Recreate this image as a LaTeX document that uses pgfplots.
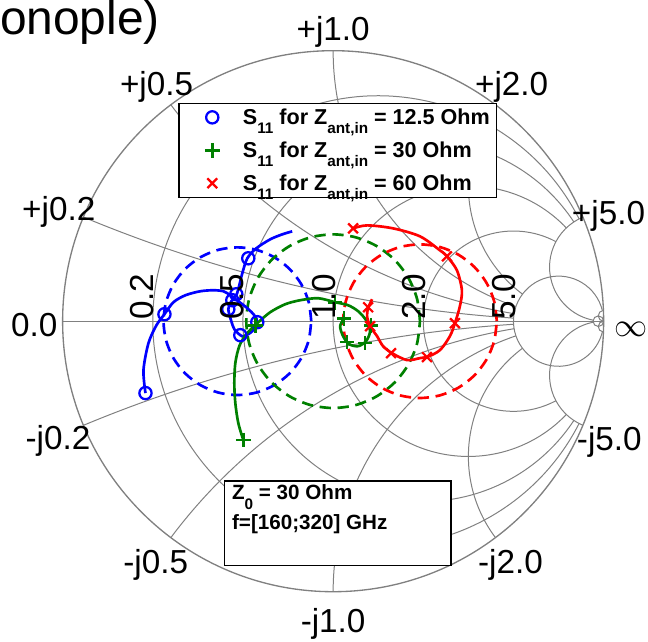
\documentclass[border=0pt]{standalone}
\usepackage{pgfplots}
\pgfplotsset{compat=1.18}
\usepackage{fontspec}
\setmainfont{Liberation Sans}
\definecolor{gridgray}{RGB}{128,128,128}
\definecolor{mblue}{RGB}{0,0,255}
\definecolor{mgreen}{RGB}{0,128,0}
\definecolor{mred}{RGB}{255,0,0}
\newcommand{\lsub}[1]{\raisebox{-7pt}{\fontsize{11.5}{11.5}\selectfont #1}}
\newcommand{\garc}[4]{\draw ([shift={(#3:#2)}]#1) arc[start angle=#3, end angle=#4, radius=#2];}
\begin{document}
\begin{tikzpicture}
\begin{scope}[x=0.75pt,y=-0.75pt]
\path[use as bounding box] (0,0) rectangle (648,639);
\path (333,318) coordinate (C);
\end{scope}
% Smith chart grid (reflection-coefficient plane, unit = chart radius)
\begin{scope}[shift={(C)}, x=203.25pt, y=203.25pt, gridgray, line width=0.75pt]
\draw (-1,0) -- (1,0);
\garc{0.1667,0}{0.8333}{27.0}{333.0}
\garc{0.3333,0}{0.6667}{33.4}{326.6}
\garc{0.5,0}{0.5}{43.6}{180}
\garc{0.5,0}{0.5}{180}{316.4}
\garc{0.6667,0}{0.3333}{61.9}{298.1}
\garc{0.8333,0}{0.16667}{13.7}{346.3}
\draw (0.98039,0) circle[radius=0.019608];
\garc{1,5}{5}{247.38}{266.18}
\garc{1,2}{2}{216.87}{260.47}
\garc{1,1}{1}{180}{251.08}
\garc{1,0.5}{0.5}{143.13}{233.13}
\garc{1,0.2}{0.2}{112.62}{258.80}
\garc{1,0.02}{0.02}{92.3}{270}
\garc{1,-5}{5}{-247.38}{-266.18}
\garc{1,-2}{2}{-216.87}{-260.47}
\garc{1,-1}{1}{-180}{-251.08}
\garc{1,-0.5}{0.5}{-143.13}{-233.13}
\garc{1,-0.2}{0.2}{-112.62}{-258.80}
\garc{1,-0.02}{0.02}{-92.3}{-270}
\draw[line width=1pt] (0,0) circle[radius=1];
\end{scope}
\begin{axis}[
  at={(C)}, anchor=center,
  scale only axis, width=406.5pt, height=406.5pt,
  xmin=-1, xmax=1, ymin=-1, ymax=1,
  hide axis,
  legend style={at={(0.214,0.904)}, anchor=north west, draw=black, line width=0.9pt, fill=white,
    font=\fontsize{16.2}{19}\selectfont\bfseries, row sep=7.5pt},
  legend cell align=left,
  lgmark/.style={legend image code/.code={\path (0pt,0pt) (41pt,0pt); \draw[##1] plot coordinates {(21pt,0pt)};}},
]
% dashed circles
\addplot[mblue, line width=2pt, dash pattern=on 8.5pt off 5pt, smooth, forget plot] coordinates {
(-0.081,0) (-0.0903,0.0707) (-0.1176,0.1365) (-0.161,0.193) (-0.2175,0.2364) (-0.2833,0.2637)
(-0.354,0.273) (-0.4247,0.2637) (-0.4905,0.2364) (-0.547,0.193) (-0.5904,0.1365) (-0.6177,0.0707)
(-0.627,0) (-0.6177,-0.0707) (-0.5904,-0.1365) (-0.547,-0.193) (-0.4905,-0.2364) (-0.4247,-0.2637)
(-0.354,-0.273) (-0.2833,-0.2637) (-0.2175,-0.2364) (-0.161,-0.193) (-0.1176,-0.1365) (-0.0903,-0.0707) (-0.081,0)};
\addplot[mgreen, line width=2pt, dash pattern=on 8.5pt off 5pt, smooth, forget plot] coordinates {
(0.321,0) (0.3101,0.0831) (0.278,0.1605) (0.227,0.227) (0.1605,0.278) (0.0831,0.3101)
(0,0.321) (-0.0831,0.3101) (-0.1605,0.278) (-0.227,0.227) (-0.278,0.1605) (-0.3101,0.0831)
(-0.321,0) (-0.3101,-0.0831) (-0.278,-0.1605) (-0.227,-0.227) (-0.1605,-0.278) (-0.0831,-0.3101)
(0,-0.321) (0.0831,-0.3101) (0.1605,-0.278) (0.227,-0.227) (0.278,-0.1605) (0.3101,-0.0831) (0.321,0)};
\addplot[mred, line width=2pt, dash pattern=on 8.5pt off 5pt, smooth, forget plot] coordinates {
(0.605,0) (0.5953,0.0735) (0.5669,0.142) (0.5218,0.2008) (0.463,0.2459) (0.3945,0.2743)
(0.321,0.284) (0.2475,0.2743) (0.179,0.2459) (0.1202,0.2008) (0.0751,0.142) (0.0467,0.0735)
(0.037,0) (0.0467,-0.0735) (0.0751,-0.142) (0.1202,-0.2008) (0.179,-0.2459) (0.2475,-0.2743)
(0.321,-0.284) (0.3945,-0.2743) (0.463,-0.2459) (0.5218,-0.2008) (0.5669,-0.142) (0.5953,-0.0735) (0.605,0)};
% solid curves
\addplot[mblue, line width=2pt, smooth, forget plot] coordinates {
(-0.6937,-0.2657) (-0.7011,-0.1808) (-0.6827,-0.0812) (-0.6531,-0.0148) (-0.6236,0.0258)
(-0.5904,0.0701) (-0.5461,0.0959) (-0.4908,0.1107) (-0.4428,0.1144) (-0.4059,0.1107)
(-0.3801,0.0959) (-0.3506,0.0738) (-0.3173,0.0480) (-0.2915,0.0221) (-0.2804,-0.0037)
(-0.2989,-0.0369) (-0.3284,-0.0554) (-0.3432,-0.0517) (-0.3653,-0.0295) (-0.3764,0)
(-0.3875,0.0443) (-0.3764,0.0738) (-0.3579,0.0959) (-0.3469,0.1328) (-0.3358,0.1771)
(-0.3173,0.2325) (-0.2841,0.2694) (-0.2325,0.3026) (-0.1882,0.3210) (-0.1513,0.3321)};
\addplot[mgreen, line width=2pt, smooth, forget plot] coordinates {
(-0.3321,-0.4391) (-0.3506,-0.3764) (-0.3616,-0.3026) (-0.3653,-0.2288) (-0.3616,-0.1550)
(-0.3469,-0.0923) (-0.3210,-0.0480) (-0.2804,-0.0074) (-0.2325,0.0332) (-0.1771,0.0627)
(-0.1218,0.0775) (-0.0554,0.0849) (0.0074,0.0701) (0.0554,0.0590) (0.0923,0.0369)
(0.1218,0.0037) (0.1365,-0.0369) (0.1218,-0.0738) (0.0923,-0.0923) (0.0590,-0.0849)
(0.0369,-0.0554) (0.0258,-0.0185) (0.0406,0.0111)};
\addplot[mred, line width=2pt, smooth, forget plot] coordinates {
(0.1439,0.0812) (0.1292,0.0480) (0.1255,0.0185) (0.1365,-0.0185) (0.1624,-0.0554)
(0.1845,-0.0923) (0.2177,-0.1181) (0.2731,-0.1439) (0.3210,-0.1365) (0.3469,-0.1328)
(0.3948,-0.1070) (0.4317,-0.0554) (0.4502,-0.0074) (0.4686,0.0554) (0.4760,0.1144)
(0.4576,0.1882) (0.4207,0.2399) (0.3948,0.2620) (0.3210,0.3137) (0.2214,0.3432)
(0.1255,0.3542) (0.0738,0.3432)};
% markers
\addplot[only marks, mblue, mark=o, mark size=4.6pt, line width=1.7pt, lgmark] coordinates {
(-0.6937,-0.2657) (-0.6236,0.0258) (-0.3727,0.0775) (-0.2804,-0.0037) (-0.3432,-0.0517)
(-0.3875,0.0443) (-0.3579,0.0996) (-0.3137,0.2325)};
\addlegendentry{S\lsub{11} for Z\lsub{ant,in} = 12.5 Ohm}
\addplot[only marks, mgreen, mark=+, mark size=5.5pt, line width=2pt, lgmark] coordinates {
(-0.3321,-0.4391) (-0.2878,-0.0148) (0.0074,0.0701) (0.1402,-0.0148) (0.1181,-0.0812)
(0.0517,-0.0775) (0.0406,0.0111)};
\addlegendentry{S\lsub{11} for Z\lsub{ant,in} = 30 Ohm}
\addplot[only marks, mred, mark=x, mark size=5.2pt, line width=1.7pt, lgmark] coordinates {
(0.0738,0.3432) (0.4207,0.2399) (0.4502,-0.0074) (0.3469,-0.1328) (0.2140,-0.1181)
(0.1365,-0.0185) (0.1292,0.0517)};
\addlegendentry{S\lsub{11} for Z\lsub{ant,in} = 60 Ohm}
\end{axis}
\begin{scope}[x=0.75pt,y=-0.75pt, lbl/.style={inner sep=0pt, font=\fontsize{25}{25}\selectfont}]
\node[inner sep=0pt, anchor=base west, font=\fontsize{36}{36}\selectfont] at (-1,31) {onople)};
\node[lbl, anchor=base] at (333,37) {+j1.0};
\node[lbl, anchor=base east] at (193,92) {+j0.5};
\node[lbl, anchor=base west] at (475,92) {+j2.0};
\node[lbl, anchor=base east] at (95,217) {+j0.2};
\node[lbl, anchor=base west] at (572,221) {+j5.0};
\node[lbl, anchor=base east] at (57,333) {0.0};
\node[inner sep=0pt, anchor=west, font=\fontsize{23}{23}\selectfont] at (615,326) {$\infty$};
\node[lbl, anchor=base east] at (90,447) {-j0.2};
\node[lbl, anchor=base east] at (188,571) {-j0.5};
\node[lbl, anchor=base] at (333,630) {-j1.0};
\node[lbl, anchor=base west] at (478,571) {-j2.0};
\node[lbl, anchor=base west] at (577,448) {-j5.0};
\node[lbl, rotate=90, anchor=base west] at (153,317) {0.2};
\node[lbl, rotate=90, anchor=base west] at (243,317) {0.5};
\node[lbl, rotate=90, anchor=base west] at (335,317) {1.0};
\node[lbl, rotate=90, anchor=base west] at (426,317) {2.0};
\node[lbl, rotate=90, anchor=base west] at (516,317) {5.0};
\draw[black, line width=0.9pt, fill=white] (224,478) rectangle (451,563);
\node[inner sep=0pt, anchor=base west, font=\fontsize{15.5}{18}\selectfont\bfseries] at (231.5,497) {Z\lsub{0} = 30 Ohm};
\node[inner sep=0pt, anchor=base west, font=\fontsize{15.5}{18}\selectfont\bfseries] at (231.5,527) {f=[160;320] GHz};
% clean crossing at the chart centre
\fill[white] (333.5,321.5) circle[radius=4.5];
\draw[gridgray, line width=0.75pt] (327,318) -- (340,318);
\draw[gridgray, line width=0.75pt] (333.1,316.5) -- (333,318) -- (333.2,327);
\end{scope}
\end{tikzpicture}
\end{document}
